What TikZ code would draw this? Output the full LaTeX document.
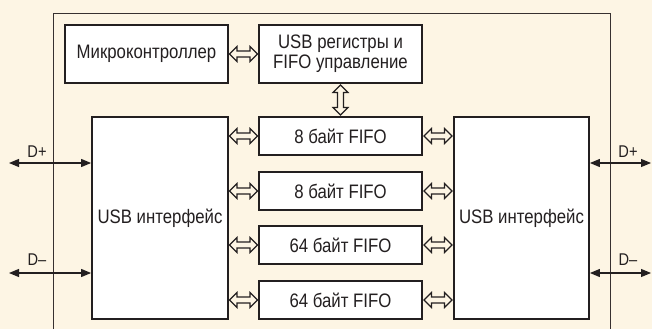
\documentclass[tikz,border=0pt]{standalone}
\usepackage{fontspec}
\setmainfont{Liberation Sans}[FakeStretch=0.86]
\usetikzlibrary{calc,arrows.meta}
\definecolor{bgcol}{RGB}{253,245,228}
\definecolor{framecol}{RGB}{55,48,48}
\definecolor{inkcol}{RGB}{35,31,32}
\begin{document}
\begin{tikzpicture}[x=1pt,y=-1pt,
  blk/.style={draw=inkcol,line width=1.8pt,fill=white,inner sep=0pt,
    font=\fontsize{19.5}{20}\selectfont,text=inkcol,align=center},
  hollow/.style={draw=inkcol,line width=1.2pt,line join=miter},
  pics/hollowh/.style={code={
    \draw[hollow] (-14,0) -- (-6.5,-7.5) -- (-6.5,-3) -- (6.5,-3) -- (6.5,-7.5) -- (14,0)
      -- (6.5,7.5) -- (6.5,3) -- (-6.5,3) -- (-6.5,7.5) -- cycle;}},
  pics/hollowv/.style={code={
    \draw[hollow] (0,-15) -- (-7.5,-7.5) -- (-3,-7.5) -- (-3,7.5) -- (-7.5,7.5) -- (0,15)
      -- (7.5,7.5) -- (3,7.5) -- (3,-7.5) -- (7.5,-7.5) -- cycle;}},
  sig/.style={draw=inkcol,line width=1.1pt,{Triangle[length=10pt,width=8pt]}-{Triangle[length=10pt,width=8pt]}},
  lbl/.style={font=\fontsize{17}{18}\selectfont,text=inkcol,inner sep=0pt}]
\fill[bgcol] (0,0) rectangle (652,329);
\useasboundingbox (0,0) rectangle (652,329);
\draw[framecol,line width=0.9pt] (53,329) -- (53,13) -- (610,13) -- (610,329);
\node[blk,minimum width=163pt,minimum height=58pt] (mc) at (146.5,54) {Микроконтроллер};
\node[blk,minimum width=163pt,minimum height=58pt] (reg) at (340.5,54) {USB регистры и\\FIFO управление};
\node[blk,minimum width=136pt,minimum height=202pt] (li) at (160,218) {USB интерфейс};
\node[blk,minimum width=135pt,minimum height=202pt] (ri) at (521.5,218) {USB интерфейс};
\node[blk,minimum width=163pt,minimum height=38pt] (f1) at (340.5,136) {8 байт FIFO};
\node[blk,minimum width=163pt,minimum height=38pt] (f2) at (340.5,191) {8 байт FIFO};
\node[blk,minimum width=163pt,minimum height=38pt] (f3) at (340.5,245) {64 байт FIFO};
\node[blk,minimum width=163pt,minimum height=38pt] (f4) at (340.5,300) {64 байт FIFO};
\path ($(mc.east)!0.5!(reg.west)$) pic {hollowh};
\path ($(reg.south)!0.5!(f1.north)$) pic {hollowv};
\foreach \f in {f1,f2,f3,f4}{
  \path ($(li.east |- \f.west)!0.5!(\f.west)$) pic {hollowh};
  \path ($(\f.east)!0.5!(ri.west |- \f.east)$) pic {hollowh};
}
\coordinate (lp) at (9,163);
\coordinate (lm) at (9,273);
\coordinate (rp) at (651,163);
\coordinate (rm) at (651,273);
\draw[sig] (lp) -- (li.west |- lp);
\draw[sig] (lm) -- (li.west |- lm);
\draw[sig] (ri.east |- rp) -- (rp);
\draw[sig] (ri.east |- rm) -- (rm);
\node[lbl] (dp1) at (37,152) {D+};
\node[lbl] (dm1) at (37,260) {D–};
\node[lbl] (dp2) at (628,152) {D+};
\node[lbl] (dm2) at (628,260) {D–};
\end{tikzpicture}
\end{document}
